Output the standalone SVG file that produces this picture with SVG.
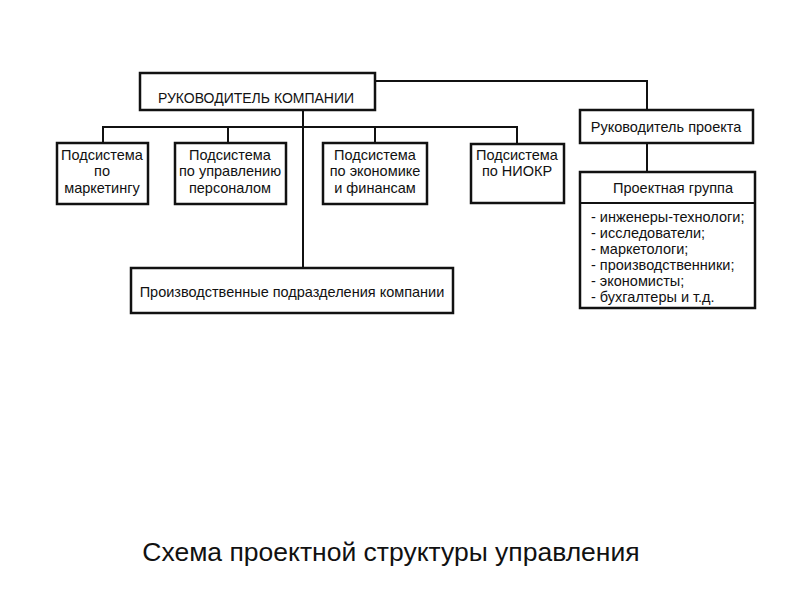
<svg xmlns="http://www.w3.org/2000/svg" width="800" height="600" viewBox="0 0 800 600">
<style>
.box{fill:#fff;stroke:#111;stroke-width:2.5}
.ln{fill:none;stroke:#111;stroke-width:2}
.t{font-family:"Liberation Sans",Arial,sans-serif;font-size:14.5px;fill:#111;text-anchor:middle}
.l{font-family:"Liberation Sans",Arial,sans-serif;font-size:14.5px;fill:#111}
.cap{font-family:"Liberation Sans",Arial,sans-serif;font-size:26.5px;fill:#111;text-anchor:middle}
</style>
<rect width="800" height="600" fill="#fff"/>
<g id="connectors">
<polyline class="ln" points="375,81 647,81 647,110"/>
<line class="ln" x1="303" y1="110" x2="303" y2="268"/>
<polyline class="ln" points="103,143 103,127 517,127 517,144"/>
<line class="ln" x1="228" y1="127" x2="228" y2="143"/>
<line class="ln" x1="375" y1="127" x2="375" y2="143"/>
<line class="ln" x1="647" y1="143" x2="647" y2="172"/>
</g>
<g id="head">
<rect class="box" x="140" y="73" width="235" height="37"/>
<text class="t" x="256" y="103" style="font-size:14px">РУКОВОДИТЕЛЬ КОМПАНИИ</text>
</g>
<g id="pm">
<rect class="box" x="580" y="110" width="173" height="33"/>
<text class="t" x="666" y="132">Руководитель проекта</text>
</g>
<g id="marketing">
<rect class="box" x="57" y="143" width="91" height="61"/>
<text class="t" x="102" y="160">Подсистема</text>
<text class="t" x="102" y="176">по</text>
<text class="t" x="102" y="193">маркетингу</text>
</g>
<g id="personnel">
<rect class="box" x="175" y="143" width="111" height="61"/>
<text class="t" x="230" y="160">Подсистема</text>
<text class="t" x="230" y="176">по управлению</text>
<text class="t" x="230" y="193">персоналом</text>
</g>
<g id="economics">
<rect class="box" x="323" y="143" width="104" height="61"/>
<text class="t" x="375" y="160">Подсистема</text>
<text class="t" x="375" y="176">по экономике</text>
<text class="t" x="375" y="193">и финансам</text>
</g>
<g id="rnd">
<rect class="box" x="471" y="144" width="93" height="59"/>
<text class="t" x="517" y="160">Подсистема</text>
<text class="t" x="517" y="176">по НИОКР</text>
</g>
<g id="production">
<rect class="box" x="131" y="268" width="322" height="45"/>
<text class="t" x="292" y="297">Производственные подразделения компании</text>
</g>
<g id="team">
<rect class="box" x="580" y="172" width="175" height="136"/>
<line class="ln" x1="580" y1="203" x2="755" y2="203"/>
<text class="t" x="673" y="193">Проектная группа</text>
<text class="l" x="591" y="222">- инженеры-технологи;</text>
<text class="l" x="591" y="238">- исследователи;</text>
<text class="l" x="591" y="254">- маркетологи;</text>
<text class="l" x="591" y="270">- производственники;</text>
<text class="l" x="591" y="286">- экономисты;</text>
<text class="l" x="591" y="302">- бухгалтеры и т.д.</text>
</g>
<text class="cap" x="391" y="561">Схема проектной структуры управления</text>
</svg>
